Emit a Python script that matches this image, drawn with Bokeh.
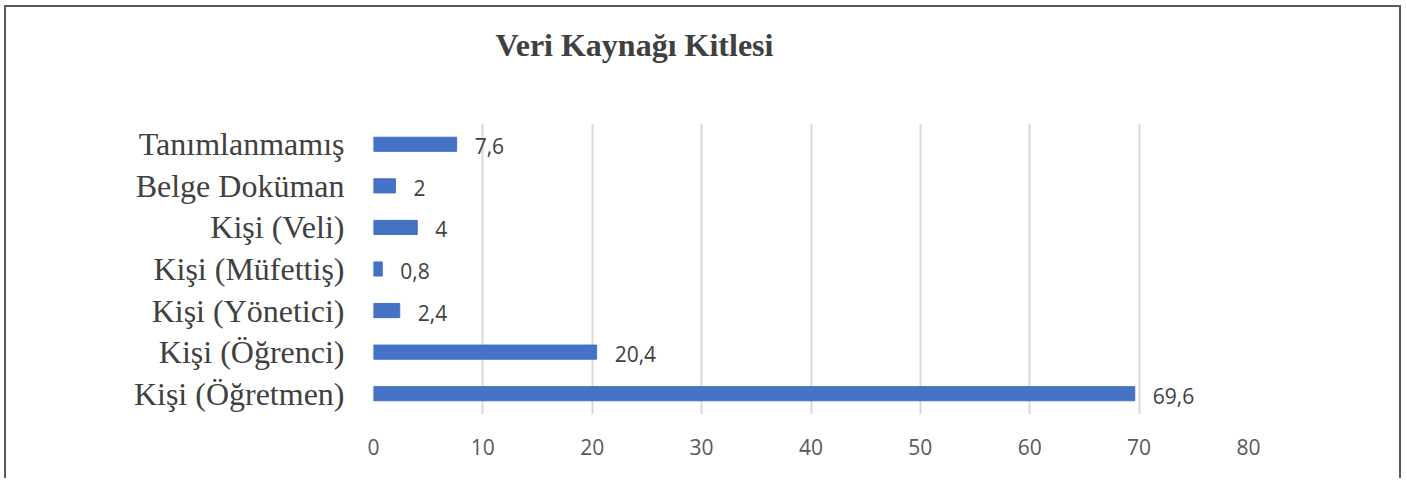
from bokeh.plotting import figure
from bokeh.models import ColumnDataSource, FactorRange, SingleIntervalTicker, Title
from bokeh.core.properties import value
from bokeh.embed import file_html
from bokeh.resources import INLINE

title_text = "Veri Kaynağı Kitlesi"
categories = ["Kişi (Öğretmen)", "Kişi (Öğrenci)", "Kişi (Yönetici)", "Kişi (Müfettiş)",
              "Kişi (Veli)", "Belge Doküman", "Tanımlanmamış"]
values = [69.6, 20.4, 2.4, 0.8, 4, 2, 7.6]
x_ticks_max = 80

labels = [("%g" % v).replace(".", ",") for v in values]
src = ColumnDataSource(dict(cat=categories, val=values, lab=labels))

p = figure(width=1397, height=473, output_backend="svg", toolbar_location=None,
           y_range=FactorRange(*categories, range_padding=0),
           x_range=(0, x_ticks_max),
           min_border_left=367, min_border_right=155, min_border_top=116, min_border_bottom=66)
p.title = None
p.styles = {"margin-left": "4px", "margin-top": "5px",
            "border-left": "2px solid #5a5a5a", "border-top": "2px solid #5a5a5a",
            "border-right": "2px solid #5a5a5a"}

# spacer between the frame and the title (added first = nearest the frame)
p.add_layout(Title(text=" ", text_font_size="1px", standoff=58), "above")
p.add_layout(Title(text=title_text, text_font="Liberation Serif", text_font_size="32px",
                   text_font_style="bold", text_color="#404040", align="left",
                   offset=122, standoff=0), "above")

p.hbar(y="cat", right="val", left=0, height=0.34, color="#4472C4", source=src)
p.text(x="val", y="cat", text="lab", source=src, x_offset=18, y_offset=2,
       text_baseline="middle", text_align="left",
       text_font=value("Open Sans"), text_font_size="21px", text_color="#404040")

p.outline_line_color = None
p.ygrid.grid_line_color = None
p.xgrid.grid_line_color = "#d9d9d9"
p.xgrid.grid_line_width = 2

p.xaxis.ticker = SingleIntervalTicker(interval=10)
p.xaxis.axis_line_color = None
p.xaxis.major_tick_line_color = None
p.xaxis.minor_tick_line_color = None
p.xaxis.major_label_text_font = "Open Sans"
p.xaxis.major_label_text_font_size = "21px"
p.xaxis.major_label_text_color = "#595959"
p.xaxis.major_label_standoff = 18

p.yaxis.axis_line_color = None
p.yaxis.major_tick_line_color = None
p.yaxis.minor_tick_line_color = None
p.yaxis.major_label_text_font = "Liberation Serif"
p.yaxis.major_label_text_font_size = "32px"
p.yaxis.major_label_text_color = "#404040"
p.yaxis.major_label_standoff = 23

open("out.html", "w").write(file_html(p, INLINE))
